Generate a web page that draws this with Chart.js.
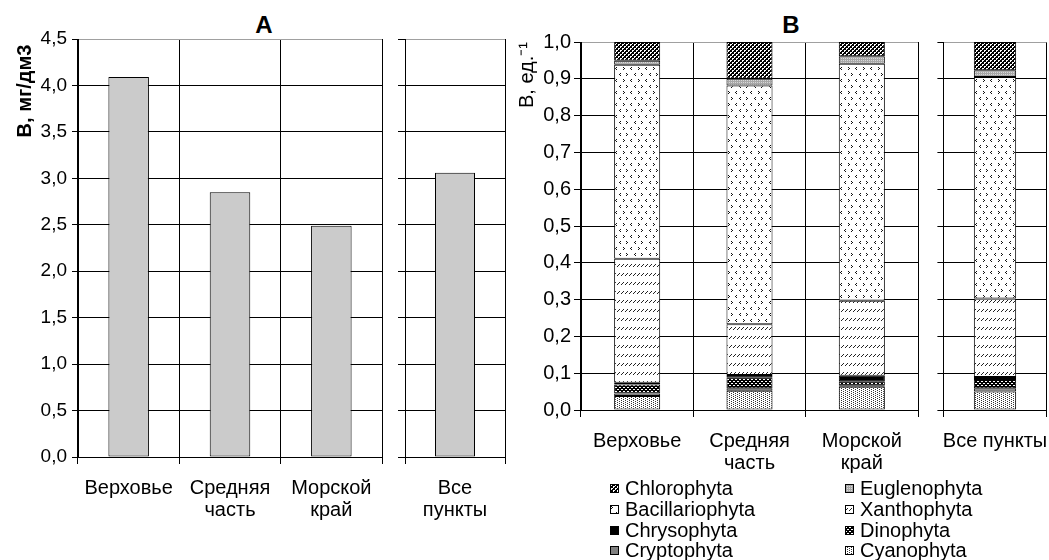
<!DOCTYPE html>
<html>
<head>
<meta charset="utf-8">
<script src="https://cdn.jsdelivr.net/npm/chart.js@4.4.1/dist/chart.umd.min.js"></script>
<style>
  html, body { margin: 0; padding: 0; background: #fff; overflow: hidden; }
  body { width: 1049px; height: 560px; position: relative; font-family: Arial, "Liberation Sans", sans-serif; color: #000; }
  canvas { position: absolute; top: 0; }
  .ttl { position: absolute; top: 13px; font-weight: bold; font-size: 24px; line-height: 24px; transform: translateX(-50%); }
  .leg { position: absolute; font-size: 20px; line-height: 20px; white-space: nowrap; }
  .leg canvas { left: 0; top: 6px; }
  .leg span { position: absolute; left: 15px; top: 0; }
</style>
</head>
<body>
<div class="ttl" style="left:264px">А</div>
<div class="ttl" style="left:791px">В</div>
<canvas id="a1" width="395" height="530" style="left:0px"></canvas>
<canvas id="a2" width="125" height="530" style="left:390px"></canvas>
<canvas id="b1" width="425" height="480" style="left:505px"></canvas>
<canvas id="b2" width="140" height="480" style="left:925px"></canvas>
<div id="legend"></div>
<script>
'use strict';

// categories
var sites = [['Верховье'], ['Средняя', 'часть'], ['Морской', 'край']];
var allSitesA = [['Все', 'пункты']];
var allSitesB = ['Все пункты'];

// A: biomass, mg/dm3
var biomass = [4.09, 2.85, 2.49];
var biomassAll = [3.06];

// B: shares of groups (Верховье, Средняя часть, Морской край, Все пункты), bottom to top
var groups = ['Cyanophyta', 'Cryptophyta', 'Dinophyta', 'Chrysophyta', 'Xanthophyta', 'Bacillariophyta', 'Euglenophyta', 'Chlorophyta'];
var cyanophyta =      [0.038, 0.052, 0.063, 0.050];
var cryptophyta =     [0.007, 0.007, 0.003, 0.009];
var dinophyta =       [0.024, 0.030, 0.012, 0.025];
var chrysophyta =     [0.005, 0.006, 0.015, 0.006];
var xanthophyta =     [0.337, 0.138, 0.204, 0.213];
var bacillariophyta = [0.527, 0.649, 0.644, 0.602];
var euglenophyta =    [0.011, 0.018, 0.020, 0.018];
var chlorophyta =     [0.051, 0.100, 0.039, 0.077];
var shares = [cyanophyta, cryptophyta, dinophyta, chrysophyta, xanthophyta, bacillariophyta, euglenophyta, chlorophyta];

Chart.defaults.font.family = 'Arial, "Liberation Sans", sans-serif';
Chart.defaults.color = '#000';

// little pixel tiles for the black-and-white fills
function tile (w, h, bg, fg, pts) {
  var c = document.createElement('canvas');
  c.width = w;
  c.height = h;
  var g = c.getContext('2d');
  g.fillStyle = bg;
  g.fillRect(0, 0, w, h);
  g.fillStyle = fg;
  pts.forEach(function (p) {
    g.fillRect(p[0], p[1], p[2] || 1, p[3] || 1);
  });
  return g.createPattern(c, 'repeat');
}

var fills = [
  tile(4, 2, '#fff', '#333', [[0, 0], [2, 1]]),
  '#808080',
  tile(4, 4, '#000', '#fff', [[0, 1, 2, 1], [2, 3, 2, 1]]),
  '#000',
  tile(4, 9, '#fff', '#222', [[0, 5], [1, 4], [2, 3]]),
  tile(15, 12, '#fff', '#111', [[1, 1], [2, 2], [1, 3], [10, 1], [9, 2], [10, 3], [6, 7], [5, 8], [6, 9], [13, 7], [14, 8], [13, 9]]),
  tile(2, 2, '#a8a8a8', '#d8d8d8', [[0, 0]]),
  tile(4, 4, '#000', '#fff', [[1, 0, 2, 1], [0, 2], [3, 2], [1, 1], [3, 3]])
];

function comma1 (v) {
  return v.toFixed(1).replace('.', ',');
}

function gridY (max) {
  return function (ctx) {
    return ctx.tick && Math.abs(ctx.tick.value - max) < 1e-9 ? '#a0a0a0' : '#000';
  };
}

function gridX (lastGray, n) {
  return function (ctx) {
    return lastGray && ctx.index === n ? '#a0a0a0' : '#000';
  };
}

function xScale (height, lastGray, n, pad) {
  return {
    stacked: true,
    grid: { color: gridX(lastGray, n), tickColor: '#000', tickLength: 7, offset: true },
    border: { color: '#000' },
    ticks: { font: { size: 20, lineHeight: 1.1 }, padding: pad, maxRotation: 0, autoSkip: false },
    afterFit: function (s) { s.height = height; }
  };
}

function yScale (width, max, step, showLabels, tickLen, title) {
  var y = {
    stacked: true,
    min: 0,
    max: max,
    grid: { color: gridY(max), tickColor: '#000', tickLength: tickLen },
    border: { color: '#000' },
    ticks: { display: showLabels, stepSize: step, callback: comma1, font: { size: max > 2 ? 19 : 20 }, padding: max > 2 ? 5 : 3 },
    afterFit: function (s) { s.width = width; }
  };
  if (title) {
    y.title = title;
  }
  return y;
}

function baseOptions (pad, scales) {
  return {
    responsive: false,
    animation: false,
    layout: { padding: pad },
    plugins: { legend: { display: false }, tooltip: { enabled: false } },
    scales: scales
  };
}

// A
new Chart(document.getElementById('a1'), {
  type: 'bar',
  data: {
    labels: sites,
    datasets: [{ data: biomass, backgroundColor: '#cbcbcb', borderColor: '#000', borderWidth: 1, borderSkipped: false, barPercentage: 0.4, categoryPercentage: 1 }]
  },
  options: baseOptions({ left: 0, right: 13, top: 39, bottom: 0 }, {
    x: xScale(73, true, sites.length, 13),
    y: yScale(78, 4.5, 0.5, true, 6, { display: true, text: 'В, мг/дм3 ', align: 'end', font: { size: 20, weight: 'bold' }, padding: { top: 13, bottom: 0 } })
  })
});

new Chart(document.getElementById('a2'), {
  type: 'bar',
  data: {
    labels: allSitesA,
    datasets: [{ data: biomassAll, backgroundColor: '#cbcbcb', borderColor: '#000', borderWidth: 1, borderSkipped: false, barPercentage: 0.4, categoryPercentage: 1 }]
  },
  options: baseOptions({ left: 0, right: 10, top: 39, bottom: 0 }, {
    x: xScale(73, false, 1, 13),
    y: yScale(15, 4.5, 0.5, false, 7)
  })
});

// B
function groupSets (from, to) {
  return groups.map(function (g, i) {
    return {
      label: g,
      data: shares[i].slice(from, to),
      backgroundColor: fills[i],
      borderColor: '#000',
      borderWidth: 1,
      borderSkipped: false,
      barPercentage: 0.41,
      categoryPercentage: 1
    };
  });
}

new Chart(document.getElementById('b1'), {
  type: 'bar',
  data: { labels: sites, datasets: groupSets(0, 3) },
  options: baseOptions({ left: 0, right: 12, top: 42, bottom: 0 }, {
    x: xScale(70, true, sites.length, 13),
    y: yScale(76, 1, 0.1, true, 7, { display: true, text: 'В, ед.⁻¹', align: 'end', font: { size: 20 }, padding: { top: 10, bottom: 0 } })
  })
});

new Chart(document.getElementById('b2'), {
  type: 'bar',
  data: { labels: allSitesB, datasets: groupSets(3, 4) },
  options: baseOptions({ left: 0, right: 11, top: 42, bottom: 0 }, {
    x: xScale(70, false, 1, 13),
    y: yScale(17, 1, 0.1, false, 6)
  })
});

// legend, two columns, top group first
var legend = document.getElementById('legend');
var order = groups.slice().reverse();
order.forEach(function (name, k) {
  var i = groups.indexOf(name);
  var item = document.createElement('div');
  item.className = 'leg';
  item.style.left = (k % 2 === 0 ? 610 : 845) + 'px';
  item.style.top = Math.round(478 + Math.floor(k / 2) * 20.8) + 'px';
  var sw = document.createElement('canvas');
  sw.width = 9;
  sw.height = 9;
  var g = sw.getContext('2d');
  g.fillStyle = '#000';
  g.fillRect(0, 0, 9, 9);
  g.fillStyle = fills[i];
  g.fillRect(1, 1, 7, 7);
  var txt = document.createElement('span');
  txt.textContent = name;
  item.appendChild(sw);
  item.appendChild(txt);
  legend.appendChild(item);
});
</script>
</body>
</html>
